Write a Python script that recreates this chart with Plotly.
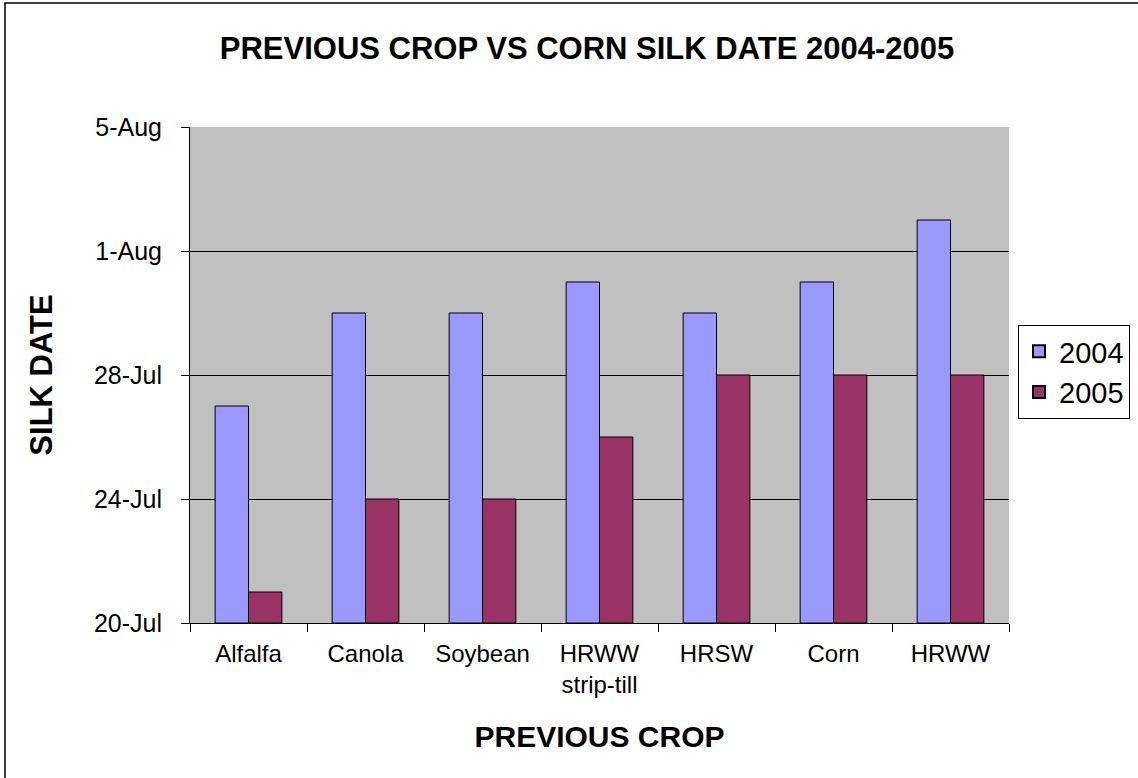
import pandas as pd
import plotly.graph_objects as go

crops = ["Alfalfa", "Canola", "Soybean", "HRWW<br>strip-till", "HRSW", "Corn", "HRWW"]
silk_2004 = ["2004-07-27", "2004-07-30", "2004-07-30", "2004-07-31", "2004-07-30", "2004-07-31", "2004-08-02"]
silk_2005 = ["2005-07-21", "2005-07-24", "2005-07-24", "2005-07-26", "2005-07-28", "2005-07-28", "2005-07-28"]
tick_labels = ["20-Jul", "24-Jul", "28-Jul", "1-Aug", "5-Aug"]


def days_after_jul20(dates):
    out = []
    for d in dates:
        t = pd.Timestamp(d)
        out.append((t - pd.Timestamp(year=t.year, month=7, day=20)).days)
    return out


y04 = days_after_jul20(silk_2004)
y05 = days_after_jul20(silk_2005)

W, H = 1138, 778
L, R, T, B = 190, 129, 127, 155
pw, ph = W - L - R, H - T - B

fig = go.Figure()
fig.add_bar(name="2004", x=crops, y=y04, marker=dict(color="#9999FF", line=dict(color="black", width=1)))
fig.add_bar(name="2005", x=crops, y=y05, marker=dict(color="#993366", line=dict(color="black", width=1)))

fig.update_layout(
    width=W, height=H,
    margin=dict(l=L, r=R, t=T, b=B, autoexpand=False),
    paper_bgcolor="white", plot_bgcolor="#C0C0C0",
    barmode="group", bargap=0.43, bargroupgap=0,
    font=dict(family="Liberation Sans, Arial, sans-serif", color="black"),
    title=dict(text="<b>PREVIOUS CROP VS CORN SILK DATE 2004-2005</b>",
               x=(587 - L) / pw, xref="paper", xanchor="center",
               y=1 - 48 / H, yref="container", yanchor="middle",
               font=dict(size=31)),
    showlegend=True,
    legend=dict(x=1 + (1018 - L - pw) / pw, xanchor="left", y=1 - (372 - T) / ph, yanchor="middle",
                bordercolor="black", borderwidth=1, bgcolor="white",
                font=dict(size=29), traceorder="normal", itemsizing="constant",
                tracegroupgap=0, itemwidth=30),
    xaxis=dict(showline=True, linecolor="black", linewidth=1, ticks="outside", ticklen=8,
               tickcolor="black", tickson="boundaries", tickfont=dict(size=24),
               ticklabelstandoff=9,
               title=dict(text="<b>PREVIOUS CROP</b>", font=dict(size=30), standoff=28),
               showgrid=False, mirror=False),
    yaxis=dict(range=[0, 16], tickvals=[0, 4, 8, 12, 16], ticktext=tick_labels,
               showline=True, linecolor="black", linewidth=1, ticks="outside", ticklen=8,
               tickcolor="black", tickfont=dict(size=25), showgrid=True, gridcolor="black",
               gridwidth=1, zeroline=False, ticklabelstandoff=14,
               title=dict(text="<b>SILK DATE</b>", font=dict(size=31), standoff=32)),
)

fig.add_shape(type="rect", xref="paper", yref="paper",
              x0=-(L - 5) / pw, x1=1 + (R + 3) / pw, y0=-(B + 3) / ph, y1=1 + (T - 3) / ph,
              line=dict(color="black", width=1.5), fillcolor="rgba(0,0,0,0)", layer="below")

fig.write_html("out.html", config={"displayModeBar": False},
               post_script="document.body.style.margin='0';document.body.style.padding='0';")
